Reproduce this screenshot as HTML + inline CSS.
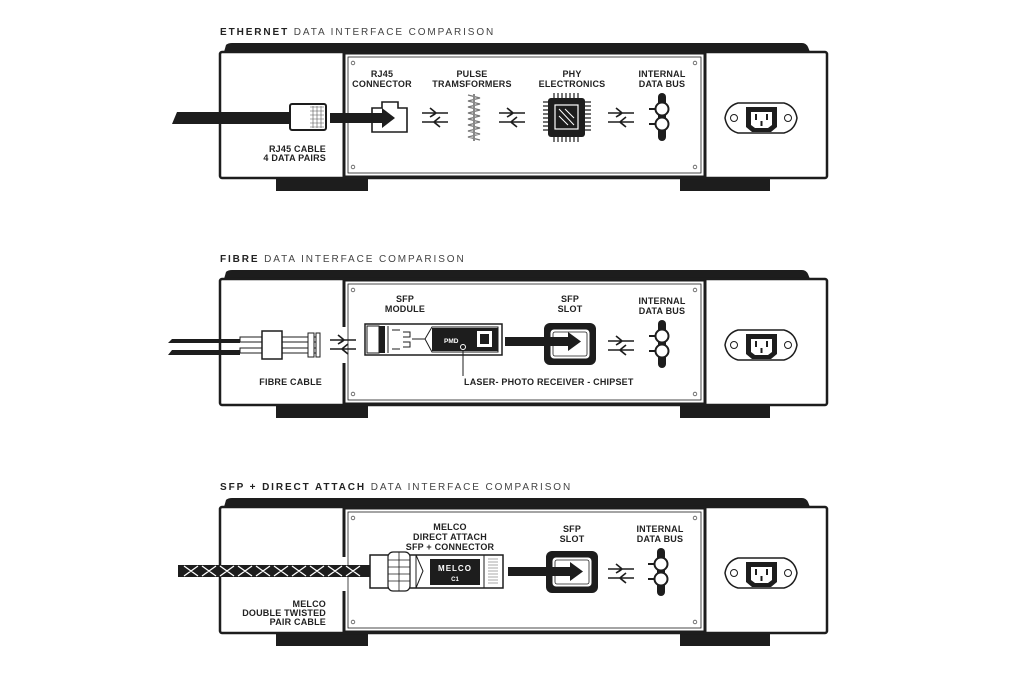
<!DOCTYPE html>
<html><head><meta charset="utf-8"><style>
html,body{margin:0;padding:0;background:#fff}
svg{display:block}
text{font-family:"Liberation Sans",sans-serif;font-weight:bold;fill:#222}
.t{font-size:9px;letter-spacing:0.2px}
.h{font-size:10px;letter-spacing:1.9px}
</style></head><body>
<svg width="1024" height="683" viewBox="0 0 1024 683" xmlns="http://www.w3.org/2000/svg">
<defs>
<g id="frame">
  <path d="M224 52 L226 45 Q228 43 232 43 L802 43 Q806 43 808 47 L810 52 Z" fill="#1d1d1d"/>
  <rect x="276" y="176" width="92" height="15" fill="#1d1d1d"/>
  <rect x="680" y="176" width="90" height="15" fill="#1d1d1d"/>
  <rect x="220" y="52" width="607" height="126" fill="#fff" stroke="#1d1d1d" stroke-width="2.5" rx="2"/>
  <rect x="344" y="53" width="361" height="124" fill="#fff" stroke="#1d1d1d" stroke-width="3"/>
  <rect x="348" y="57" width="353" height="116" fill="none" stroke="#1d1d1d" stroke-width="0.8"/>
  <circle cx="353" cy="63" r="1.8" fill="none" stroke="#555" stroke-width="0.8"/>
  <circle cx="695" cy="63" r="1.8" fill="none" stroke="#555" stroke-width="0.8"/>
  <circle cx="353" cy="167" r="1.8" fill="none" stroke="#555" stroke-width="0.8"/>
  <circle cx="695" cy="167" r="1.8" fill="none" stroke="#555" stroke-width="0.8"/>
  <path d="M738 103 L784 103 Q795 106 797 118 Q795 130 784 133 L738 133 Q727 130 725 118 Q727 106 738 103 Z" fill="#fff" stroke="#1d1d1d" stroke-width="1.5"/>
  <circle cx="734" cy="118" r="3.5" fill="none" stroke="#1d1d1d" stroke-width="1"/>
  <circle cx="788" cy="118" r="3.5" fill="none" stroke="#1d1d1d" stroke-width="1"/>
  <path d="M746 107 L777 107 L777 127 L771 132 L752 132 L746 127 Z" fill="#1d1d1d"/>
  <path d="M751 112 L772 112 L772 125 L768 128 L755 128 L751 125 Z" fill="#fff"/>
  <rect x="755" y="114" width="2" height="6" fill="#1d1d1d"/><rect x="766" y="114" width="2" height="6" fill="#1d1d1d"/><rect x="760.5" y="121" width="2" height="5" fill="#1d1d1d"/>
</g>
<g id="xarr" fill="none" stroke="#1d1d1d" stroke-width="1.6">
  <path d="M0 -4 L26 -4 M8 -9 Q13 -5 14 -4 Q13 -3 8 0"/>
  <path d="M0 5 L26 5 M18 0 Q13 4 12 5 Q13 6 18 10"/>
</g>
<g id="bus">
  <rect x="-3" y="0" width="8" height="48" rx="4" fill="#1d1d1d"/>
  <circle cx="1" cy="16" r="6.5" fill="#fff" stroke="#1d1d1d" stroke-width="2"/>
  <circle cx="1" cy="31" r="6.5" fill="#fff" stroke="#1d1d1d" stroke-width="2"/>
  <rect x="-12" y="15" width="6" height="2" fill="#1d1d1d"/><rect x="-12" y="30" width="6" height="2" fill="#1d1d1d"/>
</g>
<g id="slot">
  <rect x="0" y="0" width="52" height="42" rx="6" fill="#1d1d1d"/>
  <rect x="7" y="7" width="38" height="28" rx="3" fill="#fff" stroke="#fff" stroke-width="1"/>
  <rect x="9" y="9" width="34" height="24" rx="2" fill="none" stroke="#1d1d1d" stroke-width="0.8"/>
</g>
</defs>

<text x="220" y="35" class="h"><tspan font-weight="bold">ETHERNET</tspan><tspan font-weight="normal" fill="#444"> DATA INTERFACE COMPARISON</tspan></text>
<use href="#frame"/>
<path d="M172 124 L177 112 L292 112 L292 124 Z" fill="#1d1d1d"/>
<rect x="290" y="104" width="36" height="26" rx="2" fill="#fff" stroke="#1d1d1d" stroke-width="2"/>
<g stroke="#555" stroke-width="0.6"><path d="M310 107 L324 107 M310 111 L324 111 M310 115 L324 115 M310 119 L324 119 M310 123 L324 123 M310 127 L324 127 M313 106 L313 128 M317 106 L317 128 M321 106 L321 128"/></g>
<rect x="330" y="113" width="54" height="10" fill="#1d1d1d"/>
<path d="M382 108 L395 118 L382 128 Z" fill="#1d1d1d"/>
<path d="M372 108 L382 108 L382 102 L398 102 L398 108 L407 108 L407 132 L372 132 Z" fill="none" stroke="#1d1d1d" stroke-width="1.6"/>
<text x="382" y="77" class="t" text-anchor="middle">RJ45</text>
<text x="382" y="87" class="t" text-anchor="middle">CONNECTOR</text>
<use href="#xarr" x="422" y="117"/>
<g stroke="#777" stroke-width="1.2"><path d="M468 95 L480 98 L468 101 L480 104 L468 107 L480 110 L468 113 L480 116 L468 119 L480 122 L468 125 L480 128 L468 131 L480 134 L468 137 L480 140" fill="none"/></g>
<rect x="473" y="94" width="2" height="47" fill="#888"/>
<text x="472" y="77" class="t" text-anchor="middle">PULSE</text>
<text x="472" y="87" class="t" text-anchor="middle">TRAMSFORMERS</text>
<use href="#xarr" x="499" y="117"/>
<g stroke="#1d1d1d" stroke-width="1.2">
<path d="M554 93 L554 99 M558 93 L558 99 M562 93 L562 99 M566 93 L566 99 M570 93 L570 99 M574 93 L574 99 M578 93 L578 99 M554 136 L554 142 M558 136 L558 142 M562 136 L562 142 M566 136 L566 142 M570 136 L570 142 M574 136 L574 142 M578 136 L578 142"/>
<path d="M543 102 L549 102 M543 106 L549 106 M543 110 L549 110 M543 114 L549 114 M543 118 L549 118 M543 122 L549 122 M543 126 L549 126 M543 130 L549 130 M584 102 L591 102 M584 106 L591 106 M584 110 L591 110 M584 114 L591 114 M584 118 L591 118 M584 122 L591 122 M584 126 L591 126 M584 130 L591 130"/>
</g>
<rect x="548" y="98" width="37" height="39" rx="3" fill="#1d1d1d"/>
<rect x="555" y="105" width="23" height="24" fill="none" stroke="#fff" stroke-width="1.2"/>
<path d="M559 109 L574 125 M565 109 L574 118 M559 116 L568 125" stroke="#fff" stroke-width="1"/>
<text x="572" y="77" class="t" text-anchor="middle">PHY</text>
<text x="572" y="87" class="t" text-anchor="middle">ELECTRONICS</text>
<use href="#xarr" x="608" y="117"/>
<use href="#bus" x="661" y="93"/>
<text x="662" y="77" class="t" text-anchor="middle">INTERNAL</text>
<text x="662" y="87" class="t" text-anchor="middle">DATA BUS</text>
<text x="326" y="152" class="t" font-size="10" text-anchor="end">RJ45 CABLE</text>
<text x="326" y="161" class="t" font-size="8" text-anchor="end">4 DATA PAIRS</text>

<text x="220" y="262" class="h"><tspan>FIBRE</tspan><tspan font-weight="normal" fill="#444"> DATA INTERFACE COMPARISON</tspan></text>
<g transform="translate(0,227)">
<use href="#frame"/>
<rect x="341" y="100" width="6" height="36" fill="#fff"/>
<path d="M168 116 L172 112 L240 112 L240 116 Z M168 128 L172 123 L240 123 L240 128 Z" fill="#1d1d1d"/>
<rect x="240" y="110" width="80" height="5" fill="#fff" stroke="#1d1d1d" stroke-width="1"/>
<rect x="240" y="121" width="80" height="5" fill="#fff" stroke="#1d1d1d" stroke-width="1"/>
<rect x="262" y="104" width="20" height="28" fill="#fff" stroke="#1d1d1d" stroke-width="1.5"/>
<rect x="308" y="106" width="6" height="24" fill="#fff" stroke="#1d1d1d" stroke-width="1"/>
<rect x="316" y="106" width="4" height="24" fill="#fff" stroke="#1d1d1d" stroke-width="1"/>
<use href="#xarr" x="330" y="117"/>
<rect x="365" y="97" width="137" height="31" fill="#fff" stroke="#1d1d1d" stroke-width="1.5"/>
<rect x="367" y="99" width="12" height="27" fill="#fff" stroke="#1d1d1d" stroke-width="1"/>
<rect x="379" y="99" width="6" height="27" fill="#1d1d1d"/>
<path d="M392 103 L400 103 M392 122 L400 122 M403 105 L410 105 L410 110 L403 110 M403 115 L410 115 L410 120 L403 120" stroke="#1d1d1d" stroke-width="1" fill="none"/>
<path d="M388 99 L388 126 M412 112 L425 112 L432 100 L498 100 L498 125 L432 125 L425 112" stroke="#1d1d1d" stroke-width="1" fill="none"/>
<rect x="432" y="101" width="66" height="23" fill="#1d1d1d"/>
<text x="444" y="116" font-size="6.5" style="fill:#fff">PMD</text>
<rect x="477" y="104" width="15" height="16" fill="#fff"/><rect x="480" y="107" width="9" height="10" fill="#1d1d1d"/>
<circle cx="463" cy="120" r="2.5" fill="#1d1d1d" stroke="#fff" stroke-width="1"/>
<path d="M463 123 L463 149" stroke="#1d1d1d" stroke-width="1"/>
<text x="405" y="75" class="t" text-anchor="middle">SFP</text>
<text x="405" y="85" class="t" text-anchor="middle">MODULE</text>
<use href="#slot" x="544" y="96"/>
<rect x="505" y="110" width="65" height="9" fill="#1d1d1d"/>
<path d="M568 105 L581 114.5 L568 124 Z" fill="#1d1d1d"/>
<text x="570" y="75" class="t" text-anchor="middle">SFP</text>
<text x="570" y="85" class="t" text-anchor="middle">SLOT</text>
<use href="#xarr" x="608" y="118"/>
<use href="#bus" x="661" y="93"/>
<text x="662" y="77" class="t" text-anchor="middle">INTERNAL</text>
<text x="662" y="87" class="t" text-anchor="middle">DATA BUS</text>
<text x="322" y="158" class="t" font-size="10" text-anchor="end">FIBRE CABLE</text>
<text x="464" y="158" class="t">LASER- PHOTO RECEIVER - CHIPSET</text>
</g>

<text x="220" y="490" class="h"><tspan>SFP + DIRECT ATTACH</tspan><tspan font-weight="normal" fill="#444"> DATA INTERFACE COMPARISON</tspan></text>
<g transform="translate(0,455)">
<use href="#frame"/>
<rect x="341" y="102" width="6" height="34" fill="#fff"/>
<rect x="178" y="110" width="192" height="12" fill="#1d1d1d"/>
<path d="M184 111 L198 121 M198 111 L184 121 M202 111 L216 121 M216 111 L202 121 M220 111 L234 121 M234 111 L220 121 M238 111 L252 121 M252 111 L238 121 M256 111 L270 121 M270 111 L256 121 M274 111 L288 121 M288 111 L274 121 M292 111 L306 121 M306 111 L292 121 M310 111 L324 121 M324 111 L310 121 M328 111 L342 121 M342 111 L328 121 M346 111 L360 121 M360 111 L346 121" stroke="#fff" stroke-width="1.3"/>
<rect x="370" y="100" width="133" height="33" fill="#fff" stroke="#1d1d1d" stroke-width="1.5"/>
<rect x="388" y="97" width="22" height="39" rx="5" fill="#fff" stroke="#1d1d1d" stroke-width="1.2"/>
<path d="M388 105 L410 105 M388 112 L410 112 M388 119 L410 119 M388 126 L410 126 M399 97 L399 136" stroke="#1d1d1d" stroke-width="0.8"/>
<path d="M416 100 L416 133 M484 100 L484 133 M416 100 L423 116 L416 133" stroke="#1d1d1d" stroke-width="1" fill="none"/>
<rect x="430" y="104" width="50" height="26" fill="#1d1d1d"/>
<text x="455" y="116" font-size="8" text-anchor="middle" style="fill:#fff;letter-spacing:1px">MELCO</text>
<text x="455" y="126" font-size="6" text-anchor="middle" style="fill:#fff">C1</text>
<g stroke="#555" stroke-width="0.5"><path d="M488 104 L498 104 M488 107 L498 107 M488 110 L498 110 M488 113 L498 113 M488 116 L498 116 M488 119 L498 119 M488 122 L498 122 M488 125 L498 125 M488 128 L498 128"/></g>
<text x="450" y="75" class="t" text-anchor="middle">MELCO</text>
<text x="450" y="85" class="t" text-anchor="middle">DIRECT ATTACH</text>
<text x="450" y="95" class="t" text-anchor="middle">SFP + CONNECTOR</text>
<use href="#slot" x="546" y="96"/>
<rect x="508" y="112" width="64" height="9" fill="#1d1d1d"/>
<path d="M570 107 L583 116.5 L570 126 Z" fill="#1d1d1d"/>
<text x="572" y="77" class="t" text-anchor="middle">SFP</text>
<text x="572" y="87" class="t" text-anchor="middle">SLOT</text>
<use href="#xarr" x="608" y="118"/>
<use href="#bus" x="660" y="93"/>
<text x="660" y="77" class="t" text-anchor="middle">INTERNAL</text>
<text x="660" y="87" class="t" text-anchor="middle">DATA BUS</text>
<text x="326" y="152" class="t" font-size="10" text-anchor="end">MELCO</text>
<text x="326" y="161" class="t" font-size="8" text-anchor="end">DOUBLE TWISTED</text>
<text x="326" y="170" class="t" font-size="8" text-anchor="end">PAIR CABLE</text>
</g>
</svg>
</body></html>
